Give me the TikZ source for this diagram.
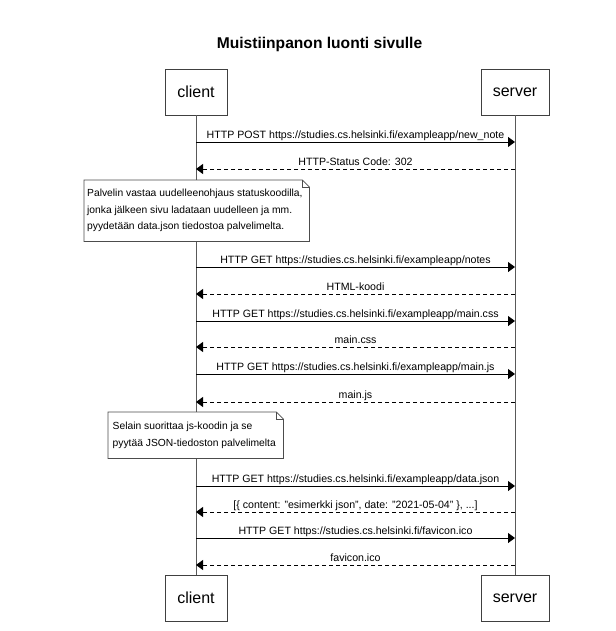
\documentclass[tikz,border=0pt]{standalone}
\usepackage{fontspec}
\setmainfont{Liberation Sans}
\usepackage{xcolor}
\usetikzlibrary{arrows.meta}

\tikzset{
    actor/.style={draw=black!75, fill=white, minimum height=46pt, inner sep=0pt,
        font=\fontsize{16}{19}\selectfont},
    lifeline/.style={draw=black!65, line width=1pt},
    req/.style={draw=black, line width=0.9pt, -{Triangle[length=7pt,width=10pt]}},
    resp/.style={req, dash pattern=on 4pt off 3pt},
    lbl/.style={midway, anchor=south, yshift=1.5pt, inner sep=0pt, text height=8pt,
        text depth=2pt, font=\fontsize{10.6}{12}\selectfont},
    notebox/.style={anchor=north west, inner sep=0pt},
    noteline/.style={draw=black!70, fill=white, line width=0.8pt},
    notetext/.style={anchor=west, align=left, inner sep=0pt,
        font=\fontsize{10.3}{16.5}\selectfont}
}

\begin{document}
\begin{tikzpicture}[x=1pt, y=-1pt]
        \useasboundingbox (0, 0) rectangle (615, 631);

        \node[font=\bfseries\fontsize{15.6}{18}\selectfont, anchor=base] (title) at (319.5, 49)
            {Muistiinpanon luonti sivulle};

        \node[actor, minimum width=62pt] (client) at (196, 92) {client};
        \node[actor, minimum width=68pt] (server) at (515, 92) {server};
        \node[actor, minimum width=62pt] (clientb) at (196, 598) {client};
        \node[actor, minimum width=68pt] (serverb) at (515, 598) {server};

        \draw[lifeline] (client) -- (clientb);
        \draw[lifeline] (server) -- (serverb);

        \draw[req] (client.south |- 0, 142) -- (server.south |- 0, 142)
            node[lbl] (m1) {HTTP POST https://studies.cs.helsinki.fi/exampleapp/new\_note};
        \draw[resp] (server.south |- 0, 169) -- (client.south |- 0, 169)
            node[lbl] (m2) {HTTP-Status Code: 302};

        \node[notebox, minimum width=225pt, minimum height=61pt] (n1) at (84, 180) {};
        \draw[noteline] (n1.south west) -- (n1.north west) -- ([xshift=-7pt]n1.north east)
            -- ([yshift=-7pt]n1.north east) -- (n1.south east) -- cycle;
        \draw[noteline, fill=none] ([xshift=-7pt]n1.north east) -- ([xshift=-7pt, yshift=-7pt]n1.north east)
            -- ([yshift=-7pt]n1.north east);
        \node[notetext] (t1) at ([xshift=3pt]n1.west)
            {Palvelin vastaa uudelleenohjaus statuskoodilla,\\
             jonka jälkeen sivu ladataan uudelleen ja mm.\\
             pyydetään data.json tiedostoa palvelimelta.};

        \draw[req] (client.south |- 0, 267) -- (server.south |- 0, 267)
            node[lbl] (m3) {HTTP GET https://studies.cs.helsinki.fi/exampleapp/notes};
        \draw[resp] (server.south |- 0, 294) -- (client.south |- 0, 294)
            node[lbl] (m4) {HTML-koodi};
        \draw[req] (client.south |- 0, 321) -- (server.south |- 0, 321)
            node[lbl] (m5) {HTTP GET https://studies.cs.helsinki.fi/exampleapp/main.css};
        \draw[resp] (server.south |- 0, 347) -- (client.south |- 0, 347)
            node[lbl] (m6) {main.css};
        \draw[req] (client.south |- 0, 374) -- (server.south |- 0, 374)
            node[lbl] (m7) {HTTP GET https://studies.cs.helsinki.fi/exampleapp/main.js};
        \draw[resp] (server.south |- 0, 402) -- (client.south |- 0, 402)
            node[lbl] (m8) {main.js};

        \node[notebox, minimum width=175pt, minimum height=46pt] (n2) at (108, 412) {};
        \draw[noteline] (n2.south west) -- (n2.north west) -- ([xshift=-7pt]n2.north east)
            -- ([yshift=-7pt]n2.north east) -- (n2.south east) -- cycle;
        \draw[noteline, fill=none] ([xshift=-7pt]n2.north east) -- ([xshift=-7pt, yshift=-7pt]n2.north east)
            -- ([yshift=-7pt]n2.north east);
        \node[notetext] (t2) at ([xshift=4.5pt]n2.west)
            {Selain suorittaa js-koodin ja se\\
             pyytää JSON-tiedoston palvelimelta};

        \draw[req] (client.south |- 0, 486) -- (server.south |- 0, 486)
            node[lbl] (m9) {HTTP GET https://studies.cs.helsinki.fi/exampleapp/data.json};
        \draw[resp] (server.south |- 0, 512) -- (client.south |- 0, 512)
            node[lbl] (m10) {[\{ content: "esimerkki json", date: "2021-05-04" \}, ...]};
        \draw[req] (client.south |- 0, 538) -- (server.south |- 0, 538)
            node[lbl] (m11) {HTTP GET https://studies.cs.helsinki.fi/favicon.ico};
        \draw[resp] (server.south |- 0, 565) -- (client.south |- 0, 565)
            node[lbl] (m12) {favicon.ico};
\end{tikzpicture}
\end{document}
